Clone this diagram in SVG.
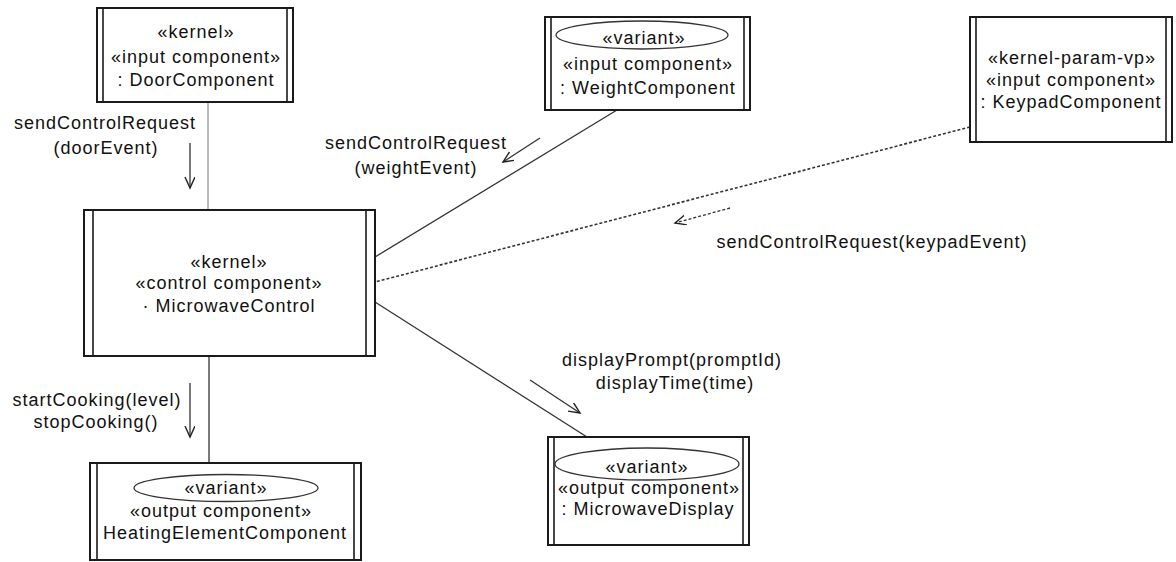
<svg xmlns="http://www.w3.org/2000/svg" width="1176" height="562" viewBox="0 0 1176 562">
<style>
text{font-family:"Liberation Sans",Arial,sans-serif;font-size:18px;letter-spacing:1px;fill:#111}
.c{text-anchor:middle}
.box{fill:#fff;stroke:#1a1a1a;stroke-width:2}
.bar{stroke:#1a1a1a;stroke-width:1.6}
.ell{fill:none;stroke:#333;stroke-width:1.3}
.ln{fill:none;stroke:#333;stroke-width:1.3}
.thin{fill:none;stroke:#777;stroke-width:1}
.dash{fill:none;stroke:#333;stroke-width:1.6;stroke-dasharray:3 2}
.arr{fill:none;stroke:#333;stroke-width:1.3;marker-end:url(#open)}
.arrd{fill:none;stroke:#333;stroke-width:1.3;stroke-dasharray:3 2;marker-end:url(#open)}
</style>
<defs>
<marker id="open" markerUnits="userSpaceOnUse" markerWidth="14" markerHeight="12" refX="11" refY="5" orient="auto">
<path d="M0,0 L11,5 L0,10" fill="none" stroke="#222" stroke-width="1.4"/>
</marker>
</defs>
<rect width="1176" height="562" fill="#fff"/>
<g id="connectors">
<line class="thin" x1="208" y1="102" x2="208" y2="210"/>
<line class="ln" x1="209" y1="356" x2="209" y2="463" stroke-width="1.6"/>
<line class="ln" x1="617" y1="110" x2="375" y2="257"/>
<line class="dash" x1="970" y1="127" x2="375" y2="282"/>
<line class="ln" x1="375" y1="302" x2="587" y2="437"/>
<line class="arr" x1="190" y1="143" x2="190" y2="188"/>
<line class="arr" x1="190" y1="383" x2="190" y2="437"/>
<line class="arr" x1="540" y1="138" x2="503" y2="162"/>
<line class="arrd" x1="730" y1="208" x2="675" y2="223"/>
<line class="arr" x1="530" y1="380" x2="580" y2="413"/>
<text class="c" x="105" y="129">sendControlRequest</text>
<text class="c" x="106" y="154">(doorEvent)</text>
<text class="c" x="416" y="149">sendControlRequest</text>
<text class="c" x="416" y="174">(weightEvent)</text>
<text class="c" x="872" y="248">sendControlRequest(keypadEvent)</text>
<text class="c" x="97" y="406">startCooking(level)</text>
<text class="c" x="96" y="428">stopCooking()</text>
<text class="c" x="672" y="366">displayPrompt(promptId)</text>
<text class="c" x="675" y="389">displayTime(time)</text>
</g>
<g id="DoorComponent">
<rect class="box" x="97" y="8" width="196" height="94"/>
<line class="bar" x1="103" y1="8" x2="103" y2="102"/>
<line class="bar" x1="287" y1="8" x2="287" y2="102"/>
<text class="c" x="196" y="38">«kernel»</text>
<text class="c" x="196" y="63">«input component»</text>
<text class="c" x="196" y="86">: DoorComponent</text>
</g>
<g id="WeightComponent">
<rect class="box" x="545" y="17" width="205" height="93"/>
<line class="bar" x1="551" y1="17" x2="551" y2="110"/>
<line class="bar" x1="744" y1="17" x2="744" y2="110"/>
<ellipse class="ell" cx="642" cy="35" rx="86" ry="14"/>
<text class="c" x="644" y="44">«variant»</text>
<text class="c" x="648" y="70">«input component»</text>
<text class="c" x="648" y="94">: WeightComponent</text>
</g>
<g id="KeypadComponent">
<rect class="box" x="970" y="17" width="202" height="125"/>
<line class="bar" x1="976" y1="17" x2="976" y2="142"/>
<line class="bar" x1="1166" y1="17" x2="1166" y2="142"/>
<text class="c" x="1072" y="64">«kernel-param-vp»</text>
<text class="c" x="1071" y="86">«input component»</text>
<text class="c" x="1071" y="108">: KeypadComponent</text>
</g>
<g id="MicrowaveControl">
<rect class="box" x="84" y="210" width="291" height="146"/>
<line class="bar" x1="93" y1="210" x2="93" y2="356"/>
<line class="bar" x1="366" y1="210" x2="366" y2="356"/>
<text class="c" x="229" y="268">«kernel»</text>
<text class="c" x="229" y="289">«control component»</text>
<text class="c" x="229" y="312">· MicrowaveControl</text>
</g>
<g id="HeatingElementComponent">
<rect class="box" x="90" y="463" width="271" height="97"/>
<line class="bar" x1="97" y1="463" x2="97" y2="560"/>
<line class="bar" x1="354" y1="463" x2="354" y2="560"/>
<ellipse class="ell" cx="226" cy="488" rx="92" ry="13.5"/>
<text class="c" x="226" y="494">«variant»</text>
<text class="c" x="221" y="517">«output component»</text>
<text class="c" x="225" y="539">HeatingElementComponent</text>
</g>
<g id="MicrowaveDisplay">
<rect class="box" x="548" y="437" width="201" height="108"/>
<line class="bar" x1="554" y1="437" x2="554" y2="545"/>
<line class="bar" x1="743" y1="437" x2="743" y2="545"/>
<ellipse class="ell" cx="647" cy="464" rx="92" ry="16"/>
<text class="c" x="647" y="473">«variant»</text>
<text class="c" x="649" y="494">«output component»</text>
<text class="c" x="648" y="515">: MicrowaveDisplay</text>
</g>
</svg>
